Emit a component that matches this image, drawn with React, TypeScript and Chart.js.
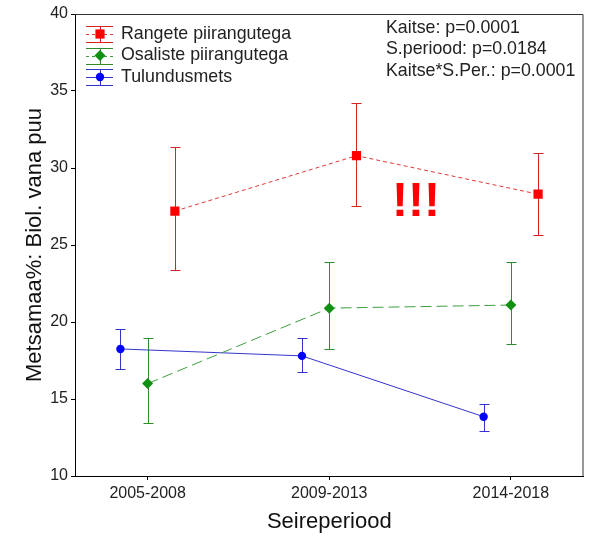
import React, { useEffect, useRef } from "react";
import { Chart, registerables } from "chart.js";

Chart.register(...registerables);

// ---- data ----
const categories = ["2005-2008", "2009-2013", "2014-2018"];
const seriesNames = ["Rangete piirangutega", "Osaliste piirangutega", "Tulundusmets"];

const rangeteMean = [27.2, 30.8, 28.3];
const rangeteUpper = [31.35, 34.2, 31.0];
const rangeteLower = [23.4, 27.5, 25.65];

const osalisteMean = [16.0, 20.9, 21.1];
const osalisteUpper = [18.95, 23.9, 23.9];
const osalisteLower = [13.45, 18.25, 18.6];

const tulundusMean = [18.25, 17.8, 13.85];
const tulundusUpper = [19.55, 18.95, 14.7];
const tulundusLower = [16.95, 16.75, 12.95];

const seriesOffsets = [0.15, 0, -0.15];
const yMin = 10;
const yMax = 40;
const yStep = 5;

const statsLines = ["Kaitse: p=0.0001", "S.periood: p=0.0184", "Kaitse*S.Per.: p=0.0001"];
const yTitle = "Metsamaa%: Biol. vana puu";
const xTitle = "Seireperiood";
const emphasis = "!!!";

const FONT = "'Liberation Sans', Arial, sans-serif";

type Style = {
  line: string;
  marker: string;
  err: string;
  dash: number[];
  pointStyle: string;
  radius: number;
};

const styles: Style[] = [
  { line: "#E03A3A", marker: "#FF0000", err: "#D42424", dash: [4, 3], pointStyle: "rect", radius: 6.5 },
  { line: "#3E9E3E", marker: "#129012", err: "#2E8B2E", dash: [11, 5], pointStyle: "rectRot", radius: 5.5 },
  { line: "#3535CC", marker: "#0000FF", err: "#3333C4", dash: [], pointStyle: "circle", radius: 4.2 },
];

const means = [rangeteMean, osalisteMean, tulundusMean];
const uppers = [rangeteUpper, osalisteUpper, tulundusUpper];
const lowers = [rangeteLower, osalisteLower, tulundusLower];

const errorBarPlugin = {
  id: "errorBars",
  beforeDatasetsDraw(chart: any) {
    const { ctx, scales } = chart;
    const xs = scales.x;
    const ys = scales.y;
    ctx.save();
    chart.data.datasets.forEach((ds: any) => {
      ctx.strokeStyle = ds.errColor;
      ctx.lineWidth = 1;
      ctx.setLineDash([]);
      ds.data.forEach((p: any, i: number) => {
        const x = Math.round(xs.getPixelForValue(p.x)) + 0.5;
        const yt = Math.round(ys.getPixelForValue(ds.errUpper[i])) + 0.5;
        const yb = Math.round(ys.getPixelForValue(ds.errLower[i])) + 0.5;
        ctx.beginPath();
        ctx.moveTo(x, yt);
        ctx.lineTo(x, yb);
        ctx.moveTo(x - 5, yt);
        ctx.lineTo(x + 5, yt);
        ctx.moveTo(x - 5, yb);
        ctx.lineTo(x + 5, yb);
        ctx.stroke();
      });
    });
    ctx.restore();
  },
};

const decorPlugin = {
  id: "decor",
  afterDraw(chart: any) {
    const { ctx, chartArea } = chart;
    const { left, top, right, bottom } = chartArea;
    ctx.save();
    // frame
    ctx.strokeStyle = "#333";
    ctx.lineWidth = 1;
    ctx.setLineDash([]);
    ctx.beginPath();
    ctx.moveTo(left, top + 0.5);
    ctx.lineTo(right - 0.5, top + 0.5);
    ctx.lineTo(right - 0.5, bottom);
    ctx.stroke();

    // legend
    const lx0 = left + 11;
    const lx1 = left + 38;
    const lxm = (lx0 + lx1) / 2;
    chart.data.datasets.forEach((ds: any, i: number) => {
      const st = styles[i];
      const cy = top + 20 + i * 21.5;
      const cyr = Math.round(cy) + 0.5;
      ctx.strokeStyle = st.err;
      ctx.lineWidth = 1;
      ctx.setLineDash([]);
      ctx.beginPath();
      ctx.moveTo(Math.round(lxm) + 0.5, cyr - 8);
      ctx.lineTo(Math.round(lxm) + 0.5, cyr + 8);
      ctx.moveTo(lx0, cyr - 8);
      ctx.lineTo(lx1, cyr - 8);
      ctx.moveTo(lx0, cyr + 8);
      ctx.lineTo(lx1, cyr + 8);
      ctx.stroke();
      ctx.strokeStyle = st.line;
      ctx.setLineDash(st.dash.length ? [3, 3] : []);
      ctx.beginPath();
      ctx.moveTo(lx0, cyr);
      ctx.lineTo(lx1, cyr);
      ctx.stroke();
      ctx.setLineDash([]);
      ctx.fillStyle = st.marker;
      const r = st.radius;
      ctx.beginPath();
      if (st.pointStyle === "rect") {
        const s = r * Math.SQRT1_2;
        ctx.rect(lxm + 0.5 - s, cy - s, 2 * s, 2 * s);
      } else if (st.pointStyle === "rectRot") {
        ctx.moveTo(lxm + 0.5 - r, cy);
        ctx.lineTo(lxm + 0.5, cy - r);
        ctx.lineTo(lxm + 0.5 + r, cy);
        ctx.lineTo(lxm + 0.5, cy + r);
        ctx.closePath();
      } else {
        ctx.arc(lxm + 0.5, cy, r, 0, Math.PI * 2);
      }
      ctx.fill();
      ctx.fillStyle = "#222";
      ctx.font = `17.8px ${FONT}`;
      ctx.textAlign = "left";
      ctx.textBaseline = "middle";
      ctx.fillText(ds.label, left + 46, cy);
    });

    // statistics text
    ctx.fillStyle = "#222";
    ctx.font = `17.8px ${FONT}`;
    ctx.textAlign = "left";
    ctx.textBaseline = "middle";
    statsLines.forEach((t, i) => {
      ctx.fillText(t, left + 311, top + 14 + i * 21.5);
    });

    // emphasis
    ctx.fillStyle = "#FF0000";
    ctx.font = `bold 48px ${FONT}`;
    ctx.textAlign = "center";
    ctx.textBaseline = "alphabetic";
    ctx.fillText(emphasis, left + 341, top + 202);
    ctx.restore();
  },
};

export default function App() {
  const ref = useRef<HTMLCanvasElement | null>(null);

  useEffect(() => {
    if (!ref.current) return;
    const datasets = seriesNames.map((name, si) => {
      const st = styles[si];
      return {
        label: name,
        data: means[si].map((v, i) => ({ x: i + seriesOffsets[si], y: v })),
        errUpper: uppers[si],
        errLower: lowers[si],
        errColor: st.err,
        borderColor: st.line,
        borderWidth: 1,
        borderDash: st.dash,
        backgroundColor: st.marker,
        pointBackgroundColor: st.marker,
        pointBorderColor: st.marker,
        pointBorderWidth: 0,
        pointStyle: st.pointStyle,
        pointRadius: st.radius,
        showLine: true,
        fill: false,
        tension: 0,
      } as any;
    });

    const chart = new Chart(ref.current, {
      type: "line",
      data: { datasets },
      plugins: [errorBarPlugin, decorPlugin],
      options: {
        animation: false,
        responsive: false,
        devicePixelRatio: 1,
        events: [],
        layout: { padding: { top: 14, right: 6, left: 0, bottom: 0 } },
        plugins: {
          legend: { display: false },
          tooltip: { enabled: false },
          title: { display: false },
        },
        scales: {
          x: {
            type: "linear",
            min: -0.4,
            max: 2.4,
            afterBuildTicks: (scale: any) => {
              scale.ticks = categories.map((_, i) => ({ value: i }));
            },
            afterFit: (scale: any) => {
              scale.height = 60;
            },
            ticks: {
              callback: (v: any) => categories[Math.round(Number(v))] ?? "",
              color: "#222",
              font: { family: FONT, size: 16 },
              padding: 4,
              maxRotation: 0,
              autoSkip: false,
            },
            grid: { display: true, drawOnChartArea: false, drawTicks: true, tickLength: 4, color: "#000" },
            border: { display: true, color: "#000", width: 1 },
            title: {
              display: true,
              text: xTitle,
              color: "#111",
              font: { family: FONT, size: 22 },
              padding: { top: 0, bottom: 1 },
            },
          },
          y: {
            type: "linear",
            min: yMin,
            max: yMax,
            afterFit: (scale: any) => {
              scale.width = 75;
            },
            ticks: {
              stepSize: yStep,
              color: "#222",
              font: { family: FONT, size: 16 },
              padding: 3,
            },
            grid: { display: true, drawOnChartArea: false, drawTicks: true, tickLength: 4, color: "#000" },
            border: { display: true, color: "#000", width: 1 },
            title: {
              display: true,
              text: yTitle,
              color: "#111",
              font: { family: FONT, size: 22 },
              padding: { top: 22, bottom: 0 },
            },
          },
        },
      } as any,
    });
    return () => chart.destroy();
  }, []);

  return (
    <div style={{ position: "fixed", left: 0, top: 0, width: 590, height: 536, background: "#fff" }}>
      <canvas ref={ref} width={590} height={536} style={{ width: 590, height: 536, display: "block" }} />
    </div>
  );
}
